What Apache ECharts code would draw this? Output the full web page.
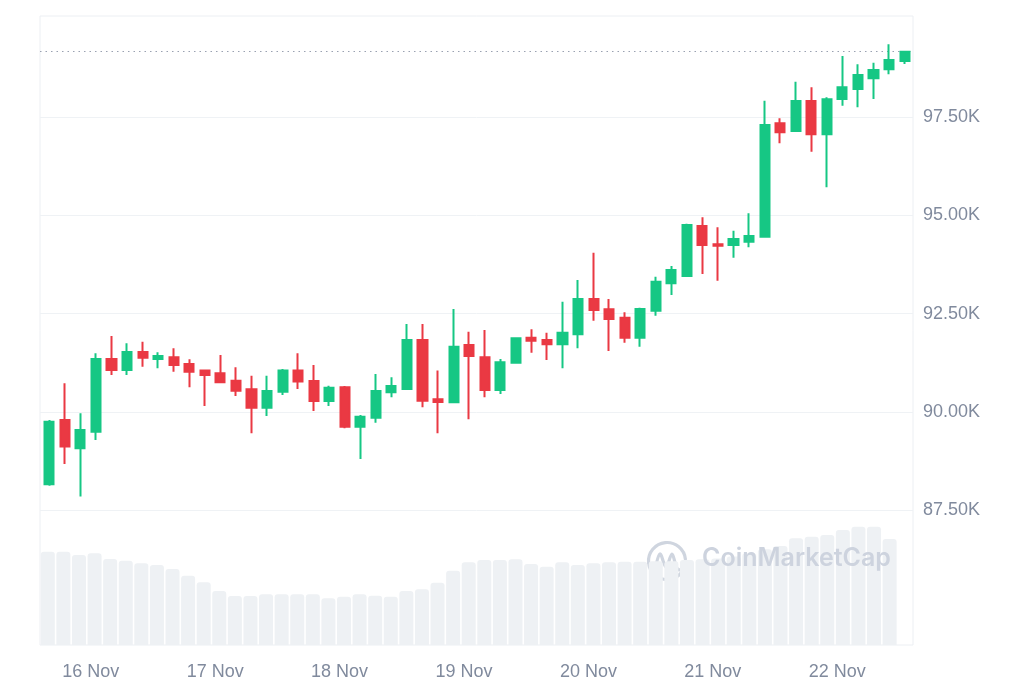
<!DOCTYPE html>
<html>
<head>
<meta charset="utf-8">
<script src="https://cdn.jsdelivr.net/npm/echarts@6/dist/echarts.min.js"></script>
<style>
html,body{margin:0;padding:0;background:#ffffff;}
#chart{width:1024px;height:683px;}
</style>
</head>
<body>
<div id="chart"></div>
<script>
// ---- data (3-hour candles, BTC/USD) ----
const firstCandleUTC = Date.UTC(2024, 10, 15, 16, 0);
const candleHours = 3;
const monthNames = ['Jan','Feb','Mar','Apr','May','Jun','Jul','Aug','Sep','Oct','Nov','Dec'];

const openPrices  = [88156,89793,89073,89495,91346,91066,91525,91346,91390,91219,91049,90982,90794,90575,90106,90514,91049,90786,90277,90626,89623,89852,90498,90582,91830,90320,90244,91703,91390,90557,91252,91889,91830,91721,91975,92874,92612,92398,91889,92576,93274,93459,94733,94270,94249,94333,94460,97347,97151,97915,97067,97966,98220,98493,98722,98933];
const closePrices = [89750,89114,89539,91346,91066,91525,91379,91423,91194,91023,90939,90753,90539,90106,90532,91049,90769,90277,90616,89623,89877,90532,90659,91830,90285,90251,91660,91423,90557,91262,91873,91812,91721,92016,92874,92594,92365,91889,92619,93314,93612,94758,94249,94230,94401,94478,97304,97118,97915,97067,97958,98264,98577,98704,98959,99170];
const lowPrices   = [88120,88673,87841,89284,90939,90939,91150,91110,91023,90626,90150,90750,90404,89455,89895,90430,90582,90022,90150,89582,88800,89724,90371,90560,90117,89455,90230,89811,90371,90455,91240,91507,91321,91110,91619,92321,91550,91761,91660,92449,92976,93440,93510,93340,93925,94190,94440,96838,97140,96624,95718,97795,97755,97966,98595,98857];
const highPrices  = [89793,90728,89964,91491,91932,91746,91787,91517,91619,91339,91066,91448,91135,90921,90921,91092,91491,91194,90667,90659,89921,90964,90880,92237,92237,91049,92619,92041,92085,91346,91880,92102,92016,92805,93358,94053,92874,92535,92652,93442,93714,94790,94954,94699,94613,95056,97923,97475,98406,98264,98009,99061,98849,98890,99359,99190];
// relative volume (scaled units), last candle has no bar yet
const volumes     = [69.1,69.1,66.7,67.9,63.7,62.4,60.5,59.3,56.3,51.3,46.4,40.0,36.3,36.3,37.6,37.6,37.6,37.6,34.6,35.8,37.6,36.5,35.8,40.0,41.3,46.1,55.0,61.3,63.0,63.0,63.5,60.0,58.0,61.3,59.3,60.5,61.3,61.7,61.7,62.0,62.0,63.0,63.5,64.0,65.5,68.0,70.9,73.3,79.0,80.2,81.5,85.2,87.6,87.6,78.5,null];

const priceMin = 87500, priceMax = 100000, priceStep = 2500;
const watermarkText = 'CoinMarketCap';

// ---- build ----
const H = 3600 * 1000;
const times = openPrices.map((_, i) => firstCandleUTC + i * candleHours * H);
const candleData = times.map((t, i) => [t, openPrices[i], closePrices[i], lowPrices[i], highPrices[i]]);
const lastClose = closePrices[closePrices.length - 1];

const xMin = firstCandleUTC - 1.8 * H;
const xMax = xMin + 168.42 * H;

const green = '#16c784', red = '#ea3943';
const gridColor = '#eff2f5';
const labelColor = '#808a9d';
const fontFam = '"Liberation Sans", Arial, sans-serif';

const chart = echarts.init(document.getElementById('chart'), null, {renderer: 'canvas'});

const dayFormatter = v => {
  const d = new Date(v);
  return d.getUTCDate() + ' ' + monthNames[d.getUTCMonth()];
};

chart.setOption({
  animation: false,
  useUTC: true,
  backgroundColor: '#ffffff',
  grid: [
    {left: 40, right: 111, top: 19.1, height: 490.9},
    {left: 40, right: 111, top: 510, height: 135},
    {left: 40, right: 111, top: 16, bottom: 38, show: true, borderColor: '#eceff3', borderWidth: 1, backgroundColor: 'transparent', z: 0}
  ],
  xAxis: [
    {type: 'time', gridIndex: 0, min: xMin, max: xMax, show: true,
     axisLine: {show: false}, axisTick: {show: false}, axisLabel: {show: false}, splitLine: {show: false}},
    {type: 'category', gridIndex: 1, data: times, boundaryGap: true, show: false},
    {type: 'time', gridIndex: 2, min: xMin, max: xMax,
     minInterval: 24 * H, maxInterval: 24 * H,
     axisLine: {show: false}, axisTick: {show: false}, splitLine: {show: false},
     axisLabel: {show: true, formatter: dayFormatter, color: labelColor, fontSize: 18, fontFamily: fontFam,
                 margin: 18, showMinLabel: false, showMaxLabel: false, hideOverlap: false}}
  ],
  yAxis: [
    {type: 'value', gridIndex: 0, position: 'right', min: priceMin, max: priceMax, interval: priceStep, scale: true,
     axisLine: {show: false}, axisTick: {show: false},
     axisLabel: {color: labelColor, fontSize: 18, fontFamily: fontFam, margin: 10,
                 formatter: v => v >= priceMax ? '' : (v / 1000).toFixed(2) + 'K'},
     splitLine: {show: true, lineStyle: {color: [gridColor, gridColor, gridColor, gridColor, gridColor, 'rgba(0,0,0,0)'], width: 1}}},
    {type: 'value', gridIndex: 1, min: 0, max: 100, show: false, splitLine: {show: false}},
    {type: 'value', gridIndex: 2, show: false, splitLine: {show: false}}
  ],
  graphic: [
    {type: 'group', left: 646, top: 540, z: 10, silent: true, children: [
      {type: 'arc', shape: {cx: 22, cy: 22, r: 18.5, startAngle: 0.22 * Math.PI, endAngle: 1.97 * Math.PI, clockwise: true},
       style: {stroke: '#cfd5df', lineWidth: 3.2, fill: null, lineCap: 'round'}},
      {type: 'polyline', shape: {points: [[10, 32], [15, 15], [21, 28], [27, 15], [31, 27], [34, 31], [40, 27]], smooth: 0.35},
       style: {stroke: '#cfd5df', lineWidth: 3.2, fill: null, lineCap: 'round', lineJoin: 'round'}}
    ]},
    {type: 'text', left: 702, top: 546, z: 10, silent: true,
     style: {text: watermarkText, fill: '#cdd3de', font: '600 25px Inter, "Noto Sans", sans-serif'}}
  ],
  series: [
    {
      type: 'bar', name: 'Volume', xAxisIndex: 1, yAxisIndex: 1, z: 1,
      data: volumes, barWidth: 14,
      itemStyle: {color: '#eef1f4', borderRadius: [3, 3, 0, 0]},
      silent: true
    },
    {
      type: 'candlestick', name: 'BTC', xAxisIndex: 0, yAxisIndex: 0, z: 5,
      data: candleData, barWidth: 9.6,
      encode: {x: 0, y: [1, 2, 3, 4]},
      itemStyle: {color: green, color0: red, borderColor: green, borderColor0: red, borderWidth: 2},
      markLine: {
        silent: true, symbol: ['none', 'none'],
        label: {show: false},
        lineStyle: {type: [1.5, 4], color: '#9aa1b1', width: 1.2},
        data: [{yAxis: lastClose}]
      }
    }
  ]
});
</script>
</body>
</html>
